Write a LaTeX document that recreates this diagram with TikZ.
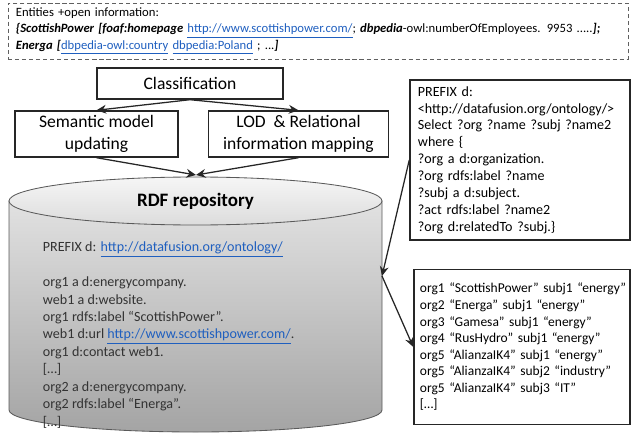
\documentclass[tikz,border=0pt]{standalone}
\usepackage{fontspec}
\setmainfont{Carlito}
\usepackage{tikz}
\usetikzlibrary{positioning, arrows.meta}
\definecolor{linkblue}{HTML}{1F5FBF}
\definecolor{edge}{HTML}{262626}
\definecolor{repolight}{HTML}{F6F6F6}
\definecolor{repomid}{HTML}{DCDCDC}
\definecolor{repodark}{HTML}{A4A4A4}
\definecolor{repoline}{HTML}{5A5A5A}
\newcommand{\lnk}[1]{\textcolor{linkblue}{\underline{#1}}}
\newcommand{\bi}[1]{\textbf{\textit{#1}}}
\tikzset{
  stage/.style   = {rectangle, draw=edge, line width=1pt, align=center,
                    font=\fontsize{12.5}{15.5}\selectfont, inner sep=2pt},
  codebox/.style = {rectangle, draw=edge, line width=1pt, align=left,
                    text width=5.1cm, inner xsep=0.2cm,
                    font=\fontsize{10}{12}\selectfont},
  infobox/.style = {rectangle, draw=gray!75!black, densely dashed, align=left,
                    text width=15.1cm, font=\fontsize{9}{11.7}\selectfont},
  arr/.style     = {-{Stealth[length=2.4mm,width=2.2mm]}, line width=0.9pt, draw=edge},
}

\begin{document}
\begin{tikzpicture}[x=0.025cm, y=0.025cm]
  \useasboundingbox (0,0) rectangle (631,-433);

  % Header: entities + open data
  \node[infobox, minimum width=15.5cm, minimum height=1.25cm] (ent) at (318,-31)
       {Entities +open information:\\
        \bi{\{ScottishPower [foaf:homepage} \lnk{http://www.scottishpower.com/}; \bi{dbpedia}-owl:numberOfEmployees. 9953 .....\bi{];}\\
        \bi{Energa [}\lnk{dbpedia-owl:country} \lnk{dbpedia:Poland} ; ...\bi{]}};

  % Classification feeds model update and mapping
  \node[stage, minimum width=4.65cm, minimum height=0.775cm] (cls) at (190,-83.5) {Classification};
  \node[stage, minimum width=4.075cm, minimum height=1.15cm] (sem) at (96.5,-134)
       {Semantic model\\updating};
  \node[stage, minimum width=4.5cm, minimum height=1.15cm, right=0.725cm of sem] (lod)
       {LOD~~\& Relational\\information mapping};

  % Repository as shaded cylinder
  \path[draw=repoline, line width=0.6pt, top color=repomid!85!white, bottom color=repodark]
    (9,-201) -- (9,-410) arc[start angle=180, end angle=360, x radius=186.5, y radius=22]
    -- (382,-201) -- cycle;
  \draw[draw=repoline, line width=0.6pt, top color=repolight, bottom color=repomid]
    (195.5,-201) ellipse[x radius=186.5, y radius=24];
  \node[font=\bfseries\fontsize{13.5}{16}\selectfont] (title) at (195.5,-201) {RDF repository};
  \node[anchor=north west, align=left, text=black!80, font=\fontsize{10}{12.4}\selectfont]
       (triples) at (38,-237)
       {PREFIX d: \lnk{http://datafusion.org/ontology/}\\[12.4pt]
        org1 a d:energycompany.\\
        web1 a d:website.\\
        org1 rdfs:label “ScottishPower”.\\
        web1 d:url \lnk{http://www.scottishpower.com/}.\\
        org1 d:contact web1.\\
        {[…]}\\
        org2 a d:energycompany.\\
        org2 rdfs:label “Energa”.\\
        {[…]}};
  \coordinate (repo-top) at (196,-175);
  \coordinate (repo-e) at (382,-276);

  % Query and its results
  \node[codebox, minimum height=4cm] (qry) at (520,-160)
       {PREFIX d:\\
        <http://datafusion.org/ontology/>\\
        Select ?org ?name ?subj ?name2\\
        where \{\\
        ?org a d:organization.\\
        ?org rdfs:label ?name\\
        ?subj a d:subject.\\
        ?act rdfs:label ?name2\\
        ?org d:relatedTo ?subj.\}};
  \node[codebox, minimum height=3.875cm, below=0.7cm of qry, xshift=0.05cm,
        inner xsep=0.15cm, font=\fontsize{9.6}{11.8}\selectfont] (res)
       {\mbox{org1 “ScottishPower” subj1 “energy”}\\
        org2 “Energa” subj1 “energy”\\
        org3 “Gamesa” subj1 “energy”\\
        org4 “RusHydro” subj1 “energy”\\
        org5 “AlianzaIK4” subj1 “energy”\\
        org5 “AlianzaIK4” subj2 “industry”\\
        org5 “AlianzaIK4” subj3 “IT”\\
        {[…]}};

  % Arrows
  \draw[arr] (cls.south) -- (sem.north);
  \draw[arr] (cls.south) -- (lod.north);
  \draw[arr] (sem.south) -- (repo-top);
  \draw[arr] (lod.south) -- (repo-top);
  \draw[arr] (qry.west) -- (repo-e);
  \draw[arr] (repo-e) -- (res.west);

\end{tikzpicture}
\end{document}
